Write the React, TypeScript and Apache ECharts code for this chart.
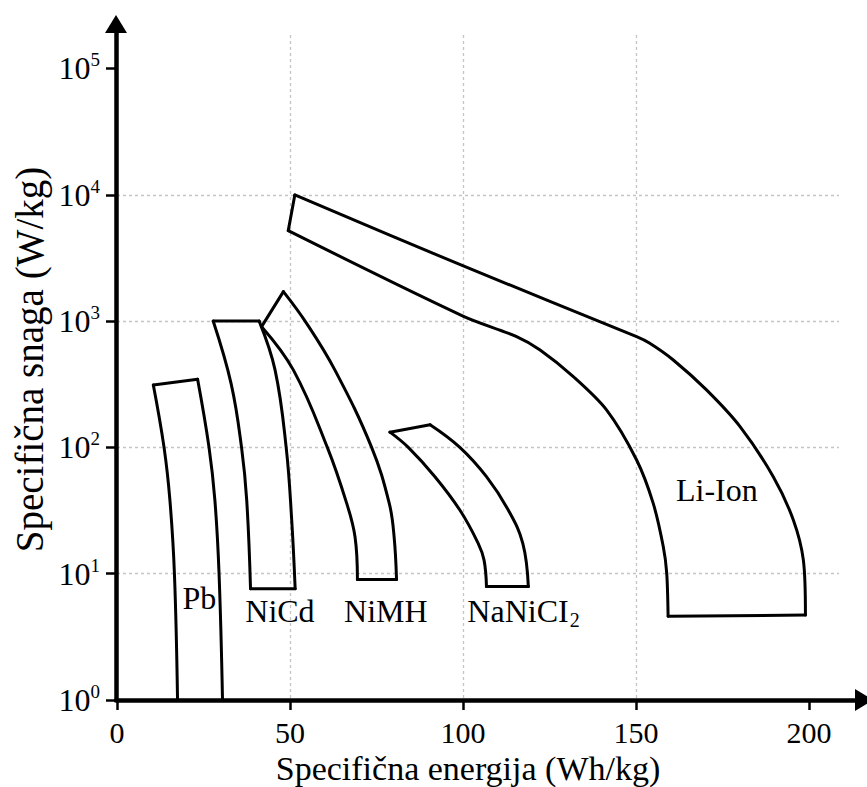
import React, { useEffect, useRef } from 'react';
import * as echarts from 'echarts';

// Axis ticks / extents
const energyTicks = [0, 50, 100, 150, 200];
const powerTicks = [1, 10, 100, 1000, 10000, 100000];
const energyMax = 208.7;
const powerMax = 184000;

// Region outlines [energy Wh/kg, power W/kg]
const pbLeft = [[10.5, 312], [13.6, 100], [15.3, 38], [16.6, 10], [17.5, 1]];
const pbRight = [[23.3, 346], [26.6, 100], [28.3, 38], [29.5, 10], [30.5, 1]];

const nicdLeft = [[27.8, 1000], [33, 318], [36, 100], [37.5, 38], [38.6, 7.6]];
const nicdRight = [[41.1, 1000], [45.7, 409], [48.9, 100], [50.5, 26.6], [51.5, 7.6]];

const nimhInner = [[41.8, 903], [51, 409], [60.8, 100], [66.4, 36], [68.8, 19.6], [69.5, 9]];
const nimhOuter = [[48.1, 1710], [54.8, 960], [63, 409], [73.6, 100], [78.7, 36], [80.1, 19.6], [80.8, 9]];

const nanaInner = [[78.9, 132], [84.2, 100], [91.9, 58.6], [99.1, 31.9], [104.4, 17.4], [106.1, 12.8], [106.8, 7.9]];
const nanaOuter = [[90.5, 151], [99.1, 100], [106.8, 58.6], [113.1, 31.9], [117.3, 17.4], [118.9, 7.9]];

const liOuter = [[51.4, 9960], [100.1, 2730], [150.2, 753], [154, 667], [160.8, 492], [170.4, 285], [180.1, 146], [189.7, 58.6], [195.5, 26.6], [198.4, 12.8], [199, 4.7]];
const liInner = [[49.5, 5200], [100, 1096], [115.5, 753], [122.3, 590], [131.9, 363], [141.5, 198], [150.2, 79.4], [155, 36], [157.9, 16.4], [158.9, 10.1], [159.3, 4.6]];

const regionNames = ['Pb', 'NiCd', 'NiMH', 'NaNiCI', 'Li-Ion'];
const regionSubs = ['', '', '', '2', ''];
const regionLabelPos = [[23.8, 6.4], [47.1, 5.07], [77.7, 5.07], [117.5, 5.07], [173.4, 46]];

const FONT = '"Liberation Serif", "Times New Roman", serif';

function curve(data: number[][], smooth: number | boolean = 0.4) {
  return {
    type: 'line',
    xAxisIndex: 0,
    yAxisIndex: 0,
    data,
    smooth,
    symbol: 'none',
    silent: true,
    z: 4,
    lineStyle: { color: '#000', width: 3, cap: 'round', join: 'round' },
  };
}

export default function App() {
  const ref = useRef<HTMLDivElement>(null);
  useEffect(() => {
    if (!ref.current) return;
    const chart = echarts.init(ref.current, undefined, { renderer: 'svg' });
    const gridLine = { show: true, showMinLine: false, showMaxLine: false, lineStyle: { color: '#c4c4c4', width: 1.3, type: [3, 3] } };
    const series: any[] = [
      curve(pbLeft), curve(pbRight), curve([pbLeft[0], pbRight[0]], false),
      curve(nicdLeft), curve(nicdRight), curve([nicdLeft[0], nicdRight[0]], false),
      curve([nicdLeft[nicdLeft.length - 1], nicdRight[nicdRight.length - 1]], false),
      curve(nimhInner), curve(nimhOuter), curve([nimhInner[0], nimhOuter[0]], false),
      curve([nimhInner[nimhInner.length - 1], nimhOuter[nimhOuter.length - 1]], false),
      curve(nanaInner), curve(nanaOuter), curve([nanaInner[0], nanaOuter[0]], false),
      curve([nanaInner[nanaInner.length - 1], nanaOuter[nanaOuter.length - 1]], false),
      curve(liOuter, 0.3), curve(liInner, 0.3), curve([liInner[0], liOuter[0]], false),
      curve([liInner[liInner.length - 1], liOuter[liOuter.length - 1]], false),
      {
        type: 'scatter',
        xAxisIndex: 0,
        yAxisIndex: 0,
        symbolSize: 0,
        silent: true,
        z: 5,
        itemStyle: { opacity: 1 },
        data: regionNames.map((n, i) => ({ name: n, value: regionLabelPos[i], sub: regionSubs[i] })),
        label: {
          show: true,
          position: 'inside',
          opacity: 1,
          formatter: (p: any) => (p.data.sub ? `{m|${p.name}}{s|${p.data.sub}}` : `{m|${p.name}}`),
          color: '#000',
          textBorderWidth: 0,
          rich: {
            m: { color: '#000', fontSize: 32, fontFamily: FONT, lineHeight: 38 },
            s: { color: '#000', fontSize: 20, fontFamily: FONT, lineHeight: 19, verticalAlign: 'bottom', padding: [0, 0, 0, 1] },
          },
        },
      },
    ];
    chart.setOption({
      animation: false,
      backgroundColor: '#fff',
      grid: [
        { left: 117, top: 35, width: 722, height: 665, containLabel: false, outerBoundsMode: 'none' },
        { left: 116, top: 24, width: 748, height: 676, containLabel: false, outerBoundsMode: 'none' },
      ],
      xAxis: [
        {
          gridIndex: 0,
          type: 'value',
          min: 0,
          max: energyMax,
          interval: 50,
          axisLine: { show: false },
          axisTick: { show: true, length: 10, customValues: energyTicks, lineStyle: { color: '#000', width: 2.5 } },
          axisLabel: {
            show: true,
            customValues: energyTicks,
            margin: 19,
            formatter: '{t|{value}}',
            rich: { t: { color: '#000', fontSize: 30, fontFamily: FONT, lineHeight: 26 } },
          },
          splitLine: gridLine,
          name: 'Specifična energija (Wh/kg)',
          nameLocation: 'middle',
          nameGap: 53,
          nameMoveOverlap: false,
          nameTextStyle: { color: '#000', fontSize: 34, lineHeight: 30, fontFamily: FONT, padding: [0, 20, 0, 0] },
        },
        {
          gridIndex: 1,
          type: 'value',
          min: 0,
          max: 1,
          axisLine: { show: true, symbol: ['none', 'triangle'], symbolSize: [22, 18], lineStyle: { color: '#000', width: 4.5 } },
          axisTick: { show: false },
          axisLabel: { show: false },
          splitLine: { show: false },
        },
      ],
      yAxis: [
        {
          gridIndex: 0,
          type: 'log',
          logBase: 10,
          min: 1,
          max: powerMax,
          axisLine: { show: false },
          axisTick: { show: true, length: 11, customValues: powerTicks, lineStyle: { color: '#000', width: 2.5 } },
          axisLabel: {
            show: true,
            customValues: powerTicks,
            margin: 17,
            formatter: (v: number) => `{b|10}{e|${Math.round(Math.log10(v))}}`,
            rich: {
              b: { color: '#000', fontSize: 32, fontFamily: FONT, lineHeight: 36 },
              e: { color: '#000', fontSize: 19, fontFamily: FONT, lineHeight: 28, verticalAlign: 'top' },
            },
          },
          splitLine: gridLine,
          name: 'Specifična snaga (W/kg)',
          nameLocation: 'middle',
          nameGap: 68,
          nameMoveOverlap: false,
          nameTextStyle: { color: '#000', fontSize: 39, fontFamily: FONT, padding: [0, 0, 0, 16] },
        },
        {
          gridIndex: 1,
          type: 'value',
          min: 0,
          max: 1,
          axisLine: { show: true, symbol: ['none', 'triangle'], symbolSize: [22, 18], lineStyle: { color: '#000', width: 4.5 } },
          axisTick: { show: false },
          axisLabel: { show: false },
          splitLine: { show: false },
        },
      ],
      series,
    });
    return () => chart.dispose();
  }, []);
  return <div ref={ref} style={{ position: 'fixed', left: 0, top: 0, width: 867, height: 787 }} />;
}
